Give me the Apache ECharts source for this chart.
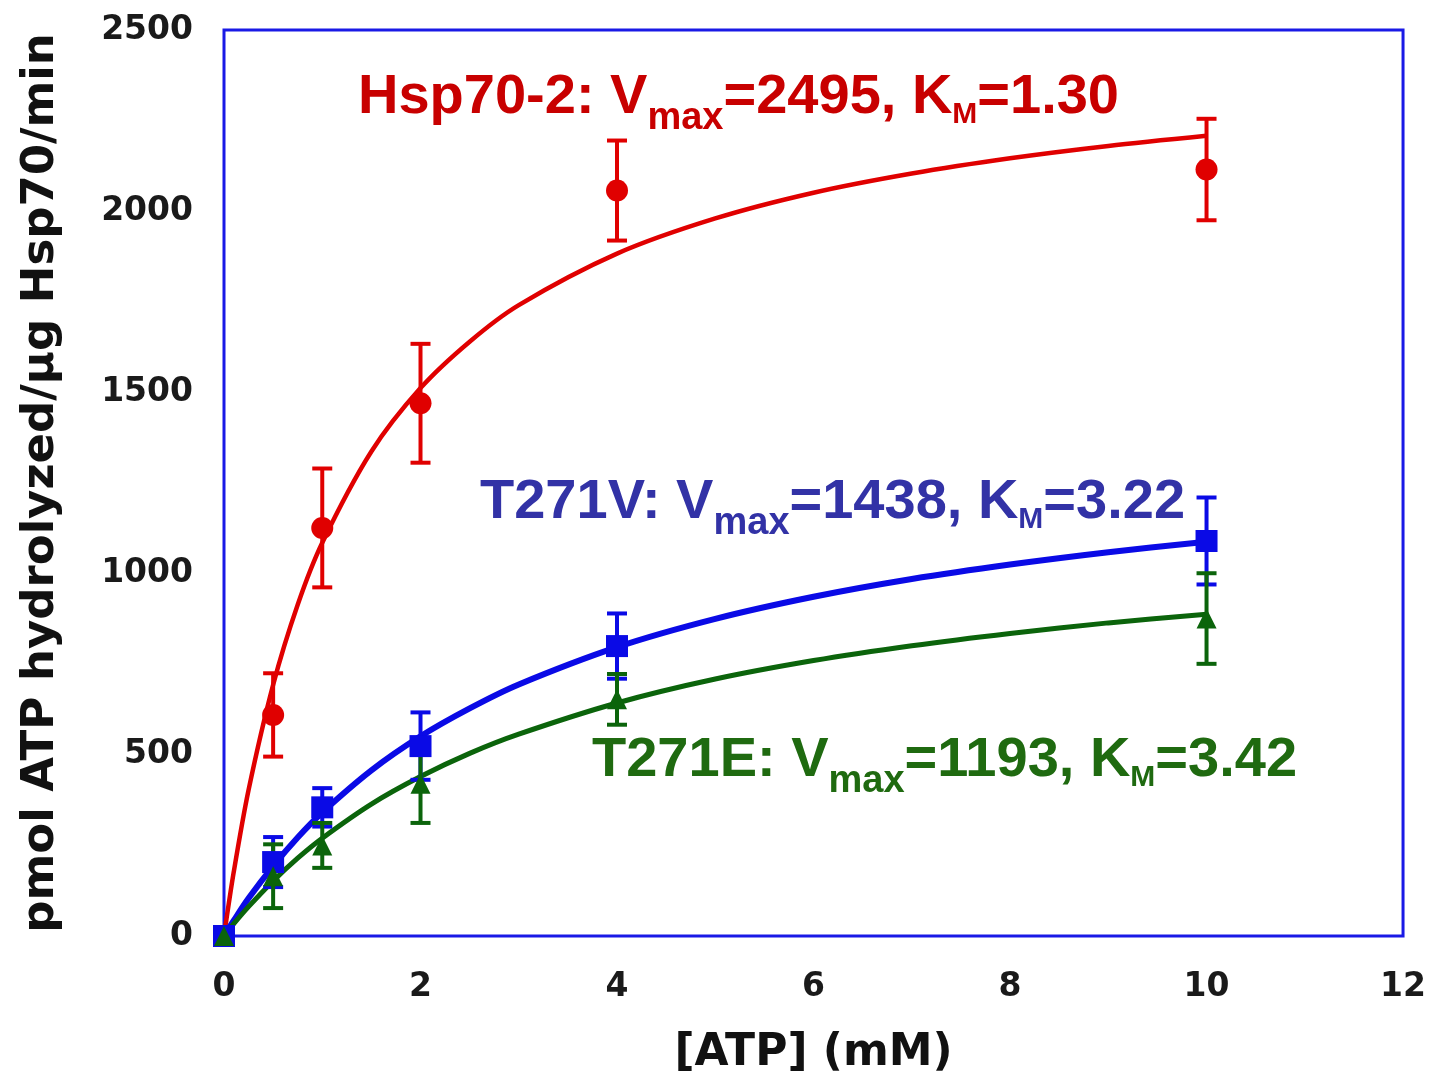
<!DOCTYPE html>
<html>
<head>
<meta charset="utf-8">
<script src="https://cdn.jsdelivr.net/npm/echarts@6/dist/echarts.min.js"></script>
<style>html,body{margin:0;padding:0;background:#fff}#c{width:1429px;height:1081px}</style>
</head>
<body>
<div id="c"></div>
<script>
// ---- data ----
var pointX = [0, 0.5, 1, 2, 4, 10];
var hspY   = [0, 610, 1126, 1470, 2057, 2115];
var hspErr = [0, 115, 164, 164, 138, 140];
var t271vY   = [0, 204, 355, 524, 800, 1090];
var t271vErr = [0, 69, 53, 93, 90, 120];
var t271eY   = [0, 165, 250, 420, 653, 876];
var t271eErr = [0, 88, 62, 108, 70, 125];

var curveX   = [0, 0.1, 0.25, 0.5, 0.75, 1, 1.5, 2, 2.5, 3, 4, 5, 6, 7, 8, 9, 10];
var hspFit   = [0, 178, 403, 693, 914, 1085, 1337, 1512, 1640, 1741, 1883, 1980, 2051, 2104, 2146, 2180, 2208];
var t271vFit = [0, 43, 104, 193, 272, 341, 457, 551, 628, 694, 797, 875, 936, 985, 1025, 1059, 1088];
var t271eFit = [0, 34, 81, 152, 215, 270, 364, 440, 504, 557, 643, 709, 760, 801, 835, 864, 888];

var xTicks = [0, 2, 4, 6, 8, 10, 12];
var yTicks = [0, 500, 1000, 1500, 2000, 2500];

var labels = [
  {name: 'Hsp70-2', vmax: '2495', km: '1.30'},
  {name: 'T271V', vmax: '1438', km: '3.22'},
  {name: 'T271E', vmax: '1193', km: '3.42'}
];

var RED = '#E00000', BLUE = '#0A0AE6', GREEN = '#0B640B';
var AXFONT = '"DejaVu Sans", Verdana, sans-serif';

function pairs(xs, ys) { return xs.map(function (x, i) { return [x, ys[i]]; }); }
function errData(xs, ys, es) { return xs.map(function (x, i) { return [x, ys[i] - es[i], ys[i] + es[i]]; }); }

function errSeries(xs, ys, es, color) {
  return {
    type: 'custom',
    data: errData(xs, ys, es),
    silent: true,
    renderItem: function (params, api) {
      var x = api.value(0);
      var lo = api.coord([x, api.value(1)]);
      var hi = api.coord([x, api.value(2)]);
      var w = 10;
      var st = {stroke: color, lineWidth: 4};
      return {
        type: 'group',
        children: [
          {type: 'line', shape: {x1: lo[0], y1: lo[1], x2: hi[0], y2: hi[1]}, style: st},
          {type: 'line', shape: {x1: lo[0] - w, y1: lo[1], x2: lo[0] + w, y2: lo[1]}, style: st},
          {type: 'line', shape: {x1: hi[0] - w, y1: hi[1], x2: hi[0] + w, y2: hi[1]}, style: st}
        ]
      };
    },
    z: 3
  };
}
function fitSeries(ys, color, w) {
  return {type: 'line', data: pairs(curveX, ys), showSymbol: false, symbol: 'none',
    lineStyle: {color: color, width: w}, smooth: 0.3, z: 2, silent: true};
}
function ptSeries(ys, color, sym, size) {
  return {type: 'scatter', data: pairs(pointX, ys), symbol: sym, symbolSize: size,
    itemStyle: {color: color, opacity: 1}, z: 4, silent: true};
}

var FONT = '"Liberation Sans Narrow", "Liberation Sans", Arial, sans-serif';
function richLabel(l, color, left, top) {
  return {
    type: 'text', left: left, top: top, z: 10,
    style: {
      text: '{a|' + l.name + ': V}{s|max}{a|=' + l.vmax + ', K}{m|M}{a|=' + l.km + '}',
      rich: {
        a: {fontSize: 56, fontWeight: 'bold', fontFamily: FONT, fill: color, color: color, lineHeight: 56, padding: [0, 0, 12, 0], verticalAlign: 'bottom'},
        s: {fontSize: 38, fontWeight: 'bold', fontFamily: FONT, fill: color, color: color, lineHeight: 38, verticalAlign: 'bottom'},
        m: {fontSize: 30, fontWeight: 'bold', fontFamily: FONT, fill: color, color: color, lineHeight: 30, padding: [0, 0, 8, 0], verticalAlign: 'bottom'}
      }
    }
  };
}

var chart = echarts.init(document.getElementById('c'), null, {renderer: 'canvas'});
chart.setOption({
  animation: false,
  backgroundColor: '#fff',
  grid: {left: 224, right: 24, top: 30, bottom: 143, show: true, borderColor: '#1A1AE6', borderWidth: 3, containLabel: false},
  xAxis: {
    type: 'value', min: 0, max: 12, interval: 2,
    axisLine: {show: false}, axisTick: {show: false}, splitLine: {show: false},
    axisLabel: {margin: 35, fontSize: 33, fontWeight: 'bold', color: '#1a1a1a', fontFamily: AXFONT,
      formatter: function (v) { return xTicks.indexOf(v) >= 0 ? String(v) : ''; }},
    name: '[ATP] (mM)', nameLocation: 'middle', nameGap: 96,
    nameTextStyle: {fontSize: 44, fontWeight: 'bold', color: '#111', fontFamily: AXFONT}
  },
  yAxis: {
    type: 'value', min: 0, max: 2500, interval: 500,
    axisLine: {show: false}, axisTick: {show: false}, splitLine: {show: false},
    axisLabel: {margin: 31, fontSize: 33, fontWeight: 'bold', color: '#1a1a1a', fontFamily: AXFONT,
      formatter: function (v) { return yTicks.indexOf(v) >= 0 ? String(v) : ''; }},
    name: 'pmol ATP hydrolyzed/µg Hsp70/min', nameLocation: 'middle', nameGap: 160, nameRotate: 90,
    nameTextStyle: {fontSize: 45, fontWeight: 'bold', color: '#111', fontFamily: AXFONT}
  },
  series: [
    fitSeries(hspFit, RED, 4.5),
    errSeries(pointX, hspY, hspErr, RED),
    ptSeries(hspY, RED, 'circle', 22),
    fitSeries(t271vFit, BLUE, 6),
    errSeries(pointX, t271vY, t271vErr, BLUE),
    ptSeries(t271vY, BLUE, 'rect', 22),
    fitSeries(t271eFit, GREEN, 5),
    errSeries(pointX, t271eY, t271eErr, GREEN),
    ptSeries(t271eY, GREEN, 'triangle', 20)
  ],
  graphic: [
    richLabel(labels[0], '#C80000', 358, 70),
    richLabel(labels[1], '#3232A6', 480, 475),
    richLabel(labels[2], '#1F6A10', 592, 733)
  ]
});
</script>
</body>
</html>
